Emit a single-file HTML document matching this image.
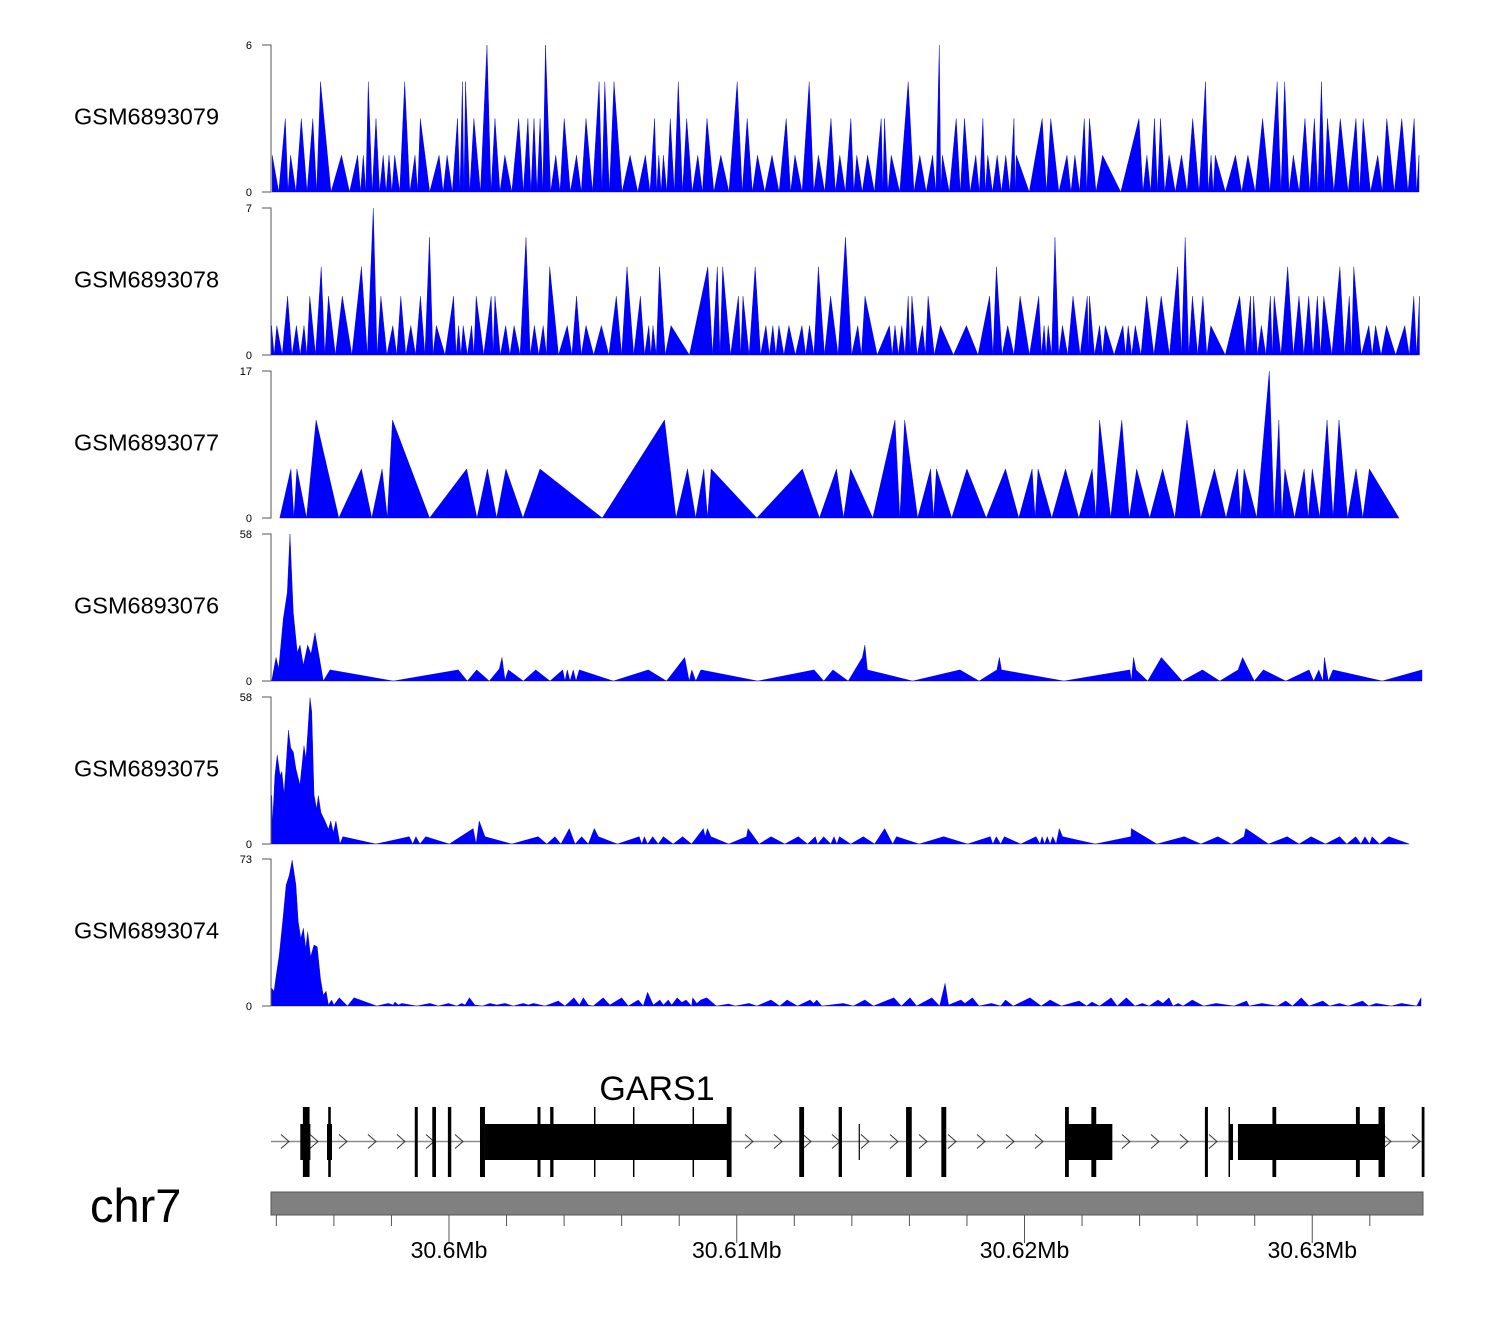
<!DOCTYPE html>
<html><head><meta charset="utf-8"><title>GARS1 coverage tracks</title>
<style>
html,body{margin:0;padding:0;background:#fff;}
svg{display:block;font-family:"Liberation Sans",Arial,sans-serif;}
</style></head>
<body>
<svg id="chart" width="1500" height="1320" viewBox="0 0 1500 1320" xmlns="http://www.w3.org/2000/svg">
<rect x="0" y="0" width="1500" height="1320" fill="#fff"/>
<g id="tracks"></g>
<g id="gene"></g>
<text x="657" y="1100" font-size="34" text-anchor="middle" fill="#000">GARS1</text>
<text x="90" y="1222" font-size="47" fill="#000">chr7</text>
<g id="axis"></g>
</svg>
<script>
// ---------- data (positions in kb from 30,590,000; values = coverage) ----------
const sampleNames = ["GSM6893079","GSM6893078","GSM6893077","GSM6893076","GSM6893075","GSM6893074"];
const yMax = [6, 7, 17, 58, 58, 73];

const t1Pos = [3.856,4.311,4.495,4.867,5.267,5.534,6.264,6.824,7.022,7.195,7.463,7.713,7.915,8.113,8.460,8.818,9.003,9.656,9.934,10.295,10.466,10.573,10.865,11.320,11.598,11.942,12.422,12.742,12.954,13.166,13.353,13.711,14.003,14.431,14.761,15.216,15.414,15.734,16.293,16.825,17.145,17.291,17.451,17.690,17.968,18.260,18.646,18.966,19.445,20.015,20.363,20.721,21.225,21.718,22.024,22.517,22.837,23.275,23.581,23.966,24.172,24.547,25.020,25.134,25.370,25.958,26.361,26.806,27.039,27.146,27.626,27.914,28.307,28.554,28.724,29.050,29.349,29.634,29.715,30.614,30.913,31.476,31.751,32.077,32.258,32.713,33.978,34.253,34.517,34.726,35.025,35.456,35.845,36.290,36.484,36.630,37.332,37.763,38.274,38.781,39.042,39.344,39.747,40.074,40.320,40.529,40.974,41.519,41.770,42.277,42.590,43.111,43.542,43.710];
const t1Val = [1.5,3,1.5,3,3,4.5,1.5,1.5,1.5,4.5,3,1.5,1.5,1.5,4.5,1.5,3,1.5,1.5,3,4.5,4.5,3,6,3,1.5,3,3,3,3,6,1.5,3,1.5,3,4.5,4.5,4.5,1.5,1.5,3,1.5,1.5,3,4.5,3,1.5,3,1.5,4.5,3,1.5,1.5,3,1.5,4.5,1.5,3,1.5,3,1.5,1.5,3,3,1.5,4.5,1.5,1.5,6,1.5,3,3,1.5,3,1.5,1.5,1.5,3,1.5,3,3,1.5,1.5,3,3,1.5,3,1.5,3,3,1.5,1.5,3,4.5,1.5,1.5,1.5,1.5,3,4.5,4.5,1.5,3,3,4.5,3,3,3,3,1.5,3,3,3,1.5];

const t2Pos = [3.831,4.016,4.391,4.697,4.961,5.162,5.559,5.812,6.292,6.956,7.369,7.633,8.047,8.325,8.672,9.006,9.322,9.562,10.160,10.334,10.493,10.785,10.945,11.466,11.598,11.970,12.262,12.676,12.968,13.273,13.500,14.111,14.431,14.761,15.296,15.814,16.186,16.651,16.943,17.089,17.315,17.715,18.994,19.324,19.511,20.057,20.217,20.641,21.013,21.253,21.465,21.812,22.264,22.528,22.837,23.261,23.779,24.206,24.457,25.305,25.499,25.736,25.958,26.087,26.455,26.650,27.080,27.981,28.787,29.023,29.416,29.847,30.496,30.681,30.823,31.059,31.320,31.685,32.182,32.258,32.609,32.808,33.419,33.604,33.850,34.243,34.750,35.324,35.584,35.835,36.200,36.474,37.478,37.854,37.961,38.232,38.545,38.677,39.146,39.539,39.876,40.178,40.400,40.960,41.287,41.443,41.965,42.201,42.580,43.216,43.529,43.726];
const t2Val = [1.4,1.4,2.8,1.4,1.4,2.8,4.2,2.8,2.8,4.2,7,2.8,1.4,2.8,1.4,2.8,5.6,1.4,2.8,1.4,1.4,1.4,2.8,2.8,2.8,1.4,1.4,5.6,1.4,1.4,4.2,1.4,2.8,1.4,1.4,2.8,4.2,2.8,1.4,1.4,4.2,1.4,4.2,4.2,4.2,2.8,2.8,4.2,1.4,1.4,1.4,1.4,1.4,1.4,4.2,2.8,5.6,1.4,2.8,1.4,1.4,1.4,2.8,2.8,1.4,2.8,1.4,1.4,2.8,4.2,1.4,2.8,2.8,1.4,1.4,5.6,1.4,2.8,2.8,2.8,1.4,1.4,1.4,1.4,1.4,2.8,2.8,4.2,5.6,2.8,2.8,1.4,2.8,2.8,2.8,1.4,2.8,2.8,4.2,2.8,2.8,2.8,2.8,4.2,2.8,4.2,1.4,1.4,1.4,1.4,2.8,2.8];

const t3Pos = [4.120,4.506,4.714,5.381,6.956,7.675,8.036,10.612,11.334,11.977,13.162,17.489,18.288,18.855,19.112,22.281,23.466,23.956,25.499,25.836,26.736,26.941,27.998,29.339,30.264,30.472,31.424,32.352,32.609,33.381,33.899,34.799,35.646,36.602,37.401,37.631,38.507,38.840,39.049,39.720,40.001,40.515,40.929,41.523,41.986,43.014];
const t3Val = [0,5.67,5.67,11.33,5.67,5.67,11.33,5.67,5.67,5.67,5.67,11.33,5.67,5.67,5.67,5.67,5.67,5.67,11.33,11.33,5.67,5.67,5.67,5.67,5.67,5.67,5.67,5.67,11.33,11.33,5.67,5.67,11.33,5.67,5.67,5.67,17,11.33,5.67,5.67,5.67,11.33,11.33,5.67,5.67,0];

const t4Pos = [3.838,3.988,4.082,4.241,4.381,4.474,4.589,4.728,4.822,4.937,5.089,5.204,5.343,5.493,5.632,5.864,8.064,10.323,10.636,10.962,11.400,11.748,11.842,11.946,12.061,12.582,13.013,13.510,13.951,14.031,14.111,14.205,14.319,14.413,14.528,15.710,16.926,17.558,18.191,18.347,18.438,18.577,18.754,20.731,22.688,23.025,23.341,23.873,24.366,24.453,24.540,26.111,27.755,28.422,29.040,29.127,29.200,31.369,33.663,33.715,33.788,33.874,34.281,34.757,35.480,36.185,36.786,37.422,37.579,37.985,38.302,39.080,39.890,40.050,40.227,40.370,40.422,40.560,40.720,42.430,43.814];
const t4Val = [0,9.3,4.9,24.5,35,58,27,11.2,14.2,6.2,14.2,10.6,19,9.3,0,4.4,0,4.4,0,4.4,0,4.8,9.3,0.4,4.4,0,4.4,0,4.4,0,4.4,0,4.4,0,4.4,0,4.4,0,9.3,0,4.4,0,4.4,0,4.4,0,4.4,0,9.3,14.2,4.4,0,4.4,0,4.4,9.3,4.4,0,4.4,0,9.3,4.4,0,9.3,0,4.4,0,4.4,9.3,0,4.4,0,4.4,0,4.4,0,9.3,0,4.4,0,4.4];

const t5Pos = [3.84,3.87,3.95,4.03,4.13,4.19,4.27,4.42,4.50,4.59,4.68,4.82,4.96,5.03,5.17,5.23,5.31,5.40,5.46,5.55,5.69,5.81,5.89,5.98,6.07,6.21,6.31,7.46,8.62,8.74,8.85,8.99,9.19,10.01,10.84,10.94,11.05,11.25,12.18,13.10,13.40,13.68,13.89,14.18,14.38,14.61,14.84,15.05,15.19,15.85,16.61,16.70,16.79,16.90,17.08,17.27,17.45,17.79,18.12,18.43,18.84,18.90,18.98,19.10,19.72,20.34,20.39,20.78,21.19,21.67,22.14,22.46,22.73,22.81,23.02,23.27,23.38,23.48,23.57,23.96,24.40,24.79,25.14,25.42,25.55,26.34,27.19,28.02,28.81,28.90,29.02,29.17,29.30,29.87,30.40,30.54,30.61,30.70,30.79,30.89,30.98,31.10,31.21,31.32,32.46,33.70,33.71,34.60,35.55,36.13,36.72,37.19,37.63,37.69,38.48,39.13,39.54,39.96,40.46,40.95,41.20,41.51,41.69,41.83,41.99,42.08,42.34,42.66,43.37];
const t5Val = [19.1,8.5,27,35.2,27,28.6,19.7,44.9,37.9,36.3,29.7,23.3,38.7,33.6,57.7,52.2,19.4,13.8,19.1,12.4,9.1,5.8,9.1,4.5,9.1,0,2.9,0,2.9,0,2.9,0,2.9,0,6.1,0,9.1,2.9,0,2.9,0,2.9,0,6.1,0,2.9,0,6.1,2.9,0,2.9,0,2.9,0,2.9,0,2.9,0,2.9,0,6.1,2.9,6.1,2.9,0,2.9,6.1,0,2.9,0,2.9,0,2.9,0,2.9,0,2.9,0,2.9,0,2.9,0,6.1,0,2.9,0,2.9,0,2.9,0,2.9,0,2.9,0,2.9,0,2.9,0,2.9,0,2.9,0,6.1,2.9,0,2.9,6.1,0,2.9,0,2.9,0,2.9,6.1,0,2.9,0,2.9,0,2.9,0,2.9,0,2.9,0,2.9,0,2.9,0];

const t6Pos = [3.84,3.92,3.99,4.10,4.22,4.34,4.45,4.55,4.68,4.76,4.85,4.94,5.02,5.09,5.19,5.31,5.42,5.54,5.63,5.73,5.81,5.92,6.00,6.19,6.47,6.70,7.49,7.89,8.06,8.12,8.24,8.36,8.88,9.34,9.63,9.98,10.27,10.44,10.56,10.71,10.90,11.17,11.42,11.66,11.95,12.23,12.58,12.76,12.93,13.34,13.80,14.03,14.34,14.53,14.67,14.84,15.01,15.36,15.59,16.00,16.23,16.58,16.75,16.90,17.10,17.33,17.45,17.62,17.74,17.93,18.09,18.24,18.43,18.47,18.61,18.75,18.96,19.29,19.72,19.95,20.43,20.70,21.19,21.49,21.75,22.11,22.55,22.67,22.78,22.96,23.70,24.05,24.45,24.75,25.46,25.72,26.02,26.25,26.78,27.05,27.24,27.36,27.79,27.93,28.19,28.42,28.85,29.17,29.34,29.61,30.19,30.58,30.89,31.28,31.90,32.16,32.34,32.61,33.01,33.22,33.54,33.84,34.10,34.33,34.64,34.81,35.02,35.16,35.34,35.51,35.83,36.22,36.66,37.28,37.72,37.81,38.25,38.78,39.08,39.31,39.62,39.89,40.37,40.60,40.95,41.25,41.75,41.96,42.22,42.75,43.10,43.63,43.78];
const t6Val = [8.8,7.3,14.6,25.3,41.9,60.1,65,72.5,60.1,41.9,33.6,38.6,28.7,36.9,24.5,30.3,29.4,12.9,5.5,7.3,0.5,3,0.5,4.1,0,4.1,0,1.3,0.5,2,0.5,1.3,0,1.3,0,1.3,0,1.3,0.5,4.1,0.5,0,1.3,0.5,1.3,0,1.3,0.5,1.3,0,2.5,0,4.1,0.5,4.1,0.5,0,4.1,0.5,4.1,0,3,0,6.8,0.5,3,0.5,3,0.5,4.1,1.8,3,0,4.1,1.3,3,4.1,0,1,0,1.3,0,3,0,3,0,3,1.3,3,0,1.3,0,3,0,4.1,0,4.1,0,4.1,0,11.3,0.5,3,1.3,4.1,0,1.3,0,3,0,4.1,0,3,0,2.5,0,2,0,4.1,0,4.1,0,1.3,0,3,1.3,4.1,0,1.3,0,3,0,1.3,0,2.5,0,1.3,0,2.5,0,4.1,0,2.5,0,1.3,0,2.5,0,1.3,0,1.3,0,4.1];

const trackPos = [t1Pos,t2Pos,t3Pos,t4Pos,t5Pos,t6Pos];
const trackVal = [t1Val,t2Val,t3Val,t4Val,t5Val,t6Val];
const peakStyle = [true,true,true,false,false,false];

// gene model (kb)
const exonStart = [4.922,5.802,8.811,9.419,9.961,11.077,13.075,13.516,15.038,16.393,18.464,19.653,22.172,23.541,25.884,27.110,31.409,32.323,36.270,37.090,38.616,41.518,42.303,43.804];
const exonEnd   = [5.155,5.892,8.915,9.548,10.079,11.250,13.179,13.631,15.080,16.435,18.503,19.820,22.339,23.656,26.082,27.281,31.541,32.493,36.374,37.142,38.748,41.653,42.525,43.900];
const cdsStart = [4.832,5.760,11.250,31.409,37.090,37.418];
const cdsEnd   = [5.183,5.934,19.663,33.053,37.247,42.525];
const tickKb = [4,6,8,10,12,14,16,18,20,22,24,26,28,30,32,34,36,38,40,42];
const majorKb = [10,20,30,40];
const majorLabels = ["30.6Mb","30.61Mb","30.62Mb","30.63Mb"];

// ---------- layout ----------
const NS = "http://www.w3.org/2000/svg";
const X0 = 161.25, PXKB = 28.775;
function xs(kb){ return X0 + kb*PXKB; }
const trackTop = [45,208,371,534,697,859];
const trackH = 147;
function ys(i, v){ return trackTop[i] + trackH - v/yMax[i]*trackH; }
function mk(tag, attrs, parent){
  const e = document.createElementNS(NS, tag);
  for (const k in attrs) e.setAttribute(k, attrs[k]);
  parent.appendChild(e); return e;
}
const gT = document.getElementById('tracks');
for (let i=0;i<6;i++){
  const base = trackTop[i]+trackH;
  const g = mk('g',{},gT);
  
  
  const lab = mk('text',{x:74,y:trackTop[i]+trackH/2+6,'font-size':23.5,fill:'#000'},g);
  lab.textContent = sampleNames[i];
  
  
  const ax = mk('path',{d:`M262 ${trackTop[i]}H271V${base}H262`,fill:'none',stroke:'#555','stroke-width':1},g);
  
  
  const tt = mk('text',{x:252,y:trackTop[i]+4,'font-size':11,'text-anchor':'end',fill:'#000'},g);
  tt.textContent = String(yMax[i]);
  
  
  const tb = mk('text',{x:252,y:base+4,'font-size':11,'text-anchor':'end',fill:'#000'},g);
  tb.textContent = "0";
  
  
  const P = trackPos[i], V = trackVal[i];
  let pts = [[xs(P[0]), base]];
  for (let j=0;j<P.length;j++){
    if (peakStyle[i] && j>0 && V[j]>0 && V[j-1]>0){
      pts.push([(xs(P[j-1])+xs(P[j]))/2, base]);
    }
    pts.push([xs(P[j]), ys(i, V[j])]);
  }
  pts.push([xs(P[P.length-1]), base]);
  const poly = mk('polygon',{points:pts.map(p=>p[0].toFixed(2)+','+p[1].toFixed(2)).join(' '),fill:'#0000ff',stroke:'#0000c8','stroke-width':0.4},g);
  
  
}

// gene track
const gG = document.getElementById('gene');
const lineY = 1141.5;
const il = mk('line',{x1:271,x2:1422,y1:lineY,y2:lineY,stroke:'#8c8c8c','stroke-width':1.5},gG);


function inBox(px){
  for (let k=0;k<cdsStart.length;k++) if (px > xs(cdsStart[k])-6 && px < xs(cdsEnd[k])+2) return true;
  return false;
}
for (let px=285; px<1422; px+=29){
  if (inBox(px)) continue;
  const ch = mk('path',{d:`M${px-4} ${lineY-7}L${px+4} ${lineY}L${px-4} ${lineY+7}`,fill:'none',stroke:'#333','stroke-width':1},gG);
  
  
}
for (let k=0;k<cdsStart.length;k++){
  const r = mk('rect',{x:xs(cdsStart[k]),y:1124,width:Math.max(1.5,xs(cdsEnd[k])-xs(cdsStart[k])),height:36,fill:'#000'},gG);
  
  
}
for (let k=0;k<exonStart.length;k++){
  const r = mk('rect',{x:xs(exonStart[k]),y:1107,width:Math.max(1.5,xs(exonEnd[k])-xs(exonStart[k])),height:70,fill:'#000'},gG);
  
  
}
const thin = mk('line',{x1:xs(24.258),x2:xs(24.258),y1:1124,y2:1160,stroke:'#000','stroke-width':1.2},gG);



// genome axis
const gA = document.getElementById('axis');
const bar = mk('rect',{x:271,y:1192,width:1152,height:23,fill:'#808080',stroke:'#555','stroke-width':1},gA);


for (const kb of tickKb){
  const major = majorKb.includes(kb);
  const t = mk('line',{x1:xs(kb),x2:xs(kb),y1:1215,y2:major?1243:1226,stroke:'#555','stroke-width':1},gA);
  
  
}
for (let k=0;k<majorKb.length;k++){
  const t = mk('text',{x:xs(majorKb[k]),y:1258,'font-size':23,'text-anchor':'middle',fill:'#000'},gA);
  t.textContent = majorLabels[k];
  
  
}
</script>
</body></html>
